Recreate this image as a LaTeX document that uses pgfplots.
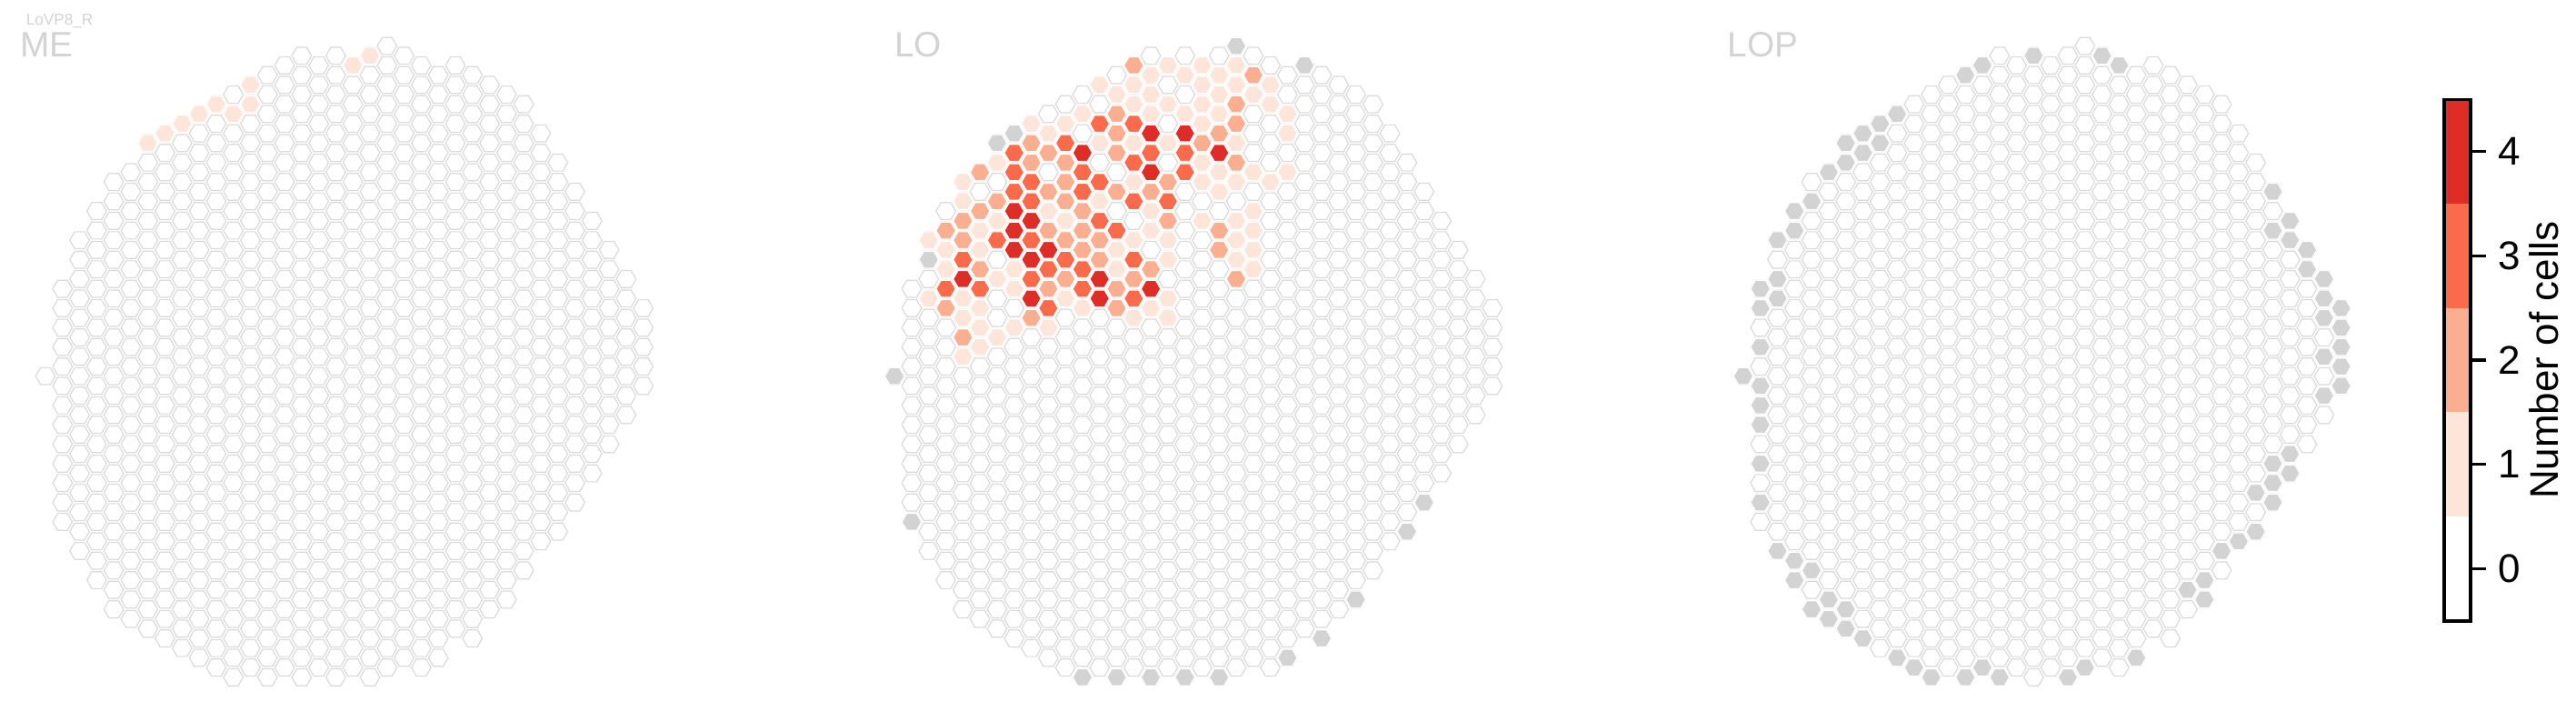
\documentclass[border=0pt]{standalone}
\usepackage{fontspec}
\setmainfont{Liberation Sans}
\usepackage{pgfplots}
\usepackage{pgfplotstable}
\pgfplotsset{compat=1.18}

\definecolor{rA}{HTML}{FEE5D9}
\definecolor{rB}{HTML}{FCAE91}
\definecolor{rC}{HTML}{FB6A4A}
\definecolor{rD}{HTML}{DE2D26}
\definecolor{absent}{HTML}{D3D3D3}
\definecolor{edge}{HTML}{DADADA}
\definecolor{titlegray}{HTML}{D3D3D3}

\pgfdeclareplotmark{hexa}{%
  \pgfpathmoveto{\pgfpoint{\pgfplotmarksize}{0pt}}%
  \pgfpathlineto{\pgfpoint{0.5\pgfplotmarksize}{0.866\pgfplotmarksize}}%
  \pgfpathlineto{\pgfpoint{-0.5\pgfplotmarksize}{0.866\pgfplotmarksize}}%
  \pgfpathlineto{\pgfpoint{-\pgfplotmarksize}{0pt}}%
  \pgfpathlineto{\pgfpoint{-0.5\pgfplotmarksize}{-0.866\pgfplotmarksize}}%
  \pgfpathlineto{\pgfpoint{0.5\pgfplotmarksize}{-0.866\pgfplotmarksize}}%
  \pgfpathclose
  \pgfusepathqfillstroke}

% all columns of the hexagonal grid (c = column, Y = half-row)
\pgfplotstableread[row sep=\\]{c Y\\
0 34\\
1 25\\1 27\\1 29\\1 31\\1 33\\1 35\\1 37\\1 39\\1 41\\1 43\\1 45\\1 47\\1 49\\
2 20\\2 22\\2 24\\2 26\\2 28\\2 30\\2 32\\2 34\\2 36\\2 38\\2 40\\2 42\\2 44\\2 46\\2 48\\2 50\\2 52\\
3 17\\3 19\\3 21\\3 23\\3 25\\3 27\\3 29\\3 31\\3 33\\3 35\\3 37\\3 39\\3 41\\3 43\\3 45\\3 47\\3 49\\3 51\\3 53\\3 55\\
4 14\\4 16\\4 18\\4 20\\4 22\\4 24\\4 26\\4 28\\4 30\\4 32\\4 34\\4 36\\4 38\\4 40\\4 42\\4 44\\4 46\\4 48\\4 50\\4 52\\4 54\\4 56\\4 58\\
5 13\\5 15\\5 17\\5 19\\5 21\\5 23\\5 25\\5 27\\5 29\\5 31\\5 33\\5 35\\5 37\\5 39\\5 41\\5 43\\5 45\\5 47\\5 49\\5 51\\5 53\\5 55\\5 57\\5 59\\
6 10\\6 12\\6 14\\6 16\\6 18\\6 20\\6 22\\6 24\\6 26\\6 28\\6 30\\6 32\\6 34\\6 36\\6 38\\6 40\\6 42\\6 44\\6 46\\6 48\\6 50\\6 52\\6 54\\6 56\\6 58\\6 60\\
7 9\\7 11\\7 13\\7 15\\7 17\\7 19\\7 21\\7 23\\7 25\\7 27\\7 29\\7 31\\7 33\\7 35\\7 37\\7 39\\7 41\\7 43\\7 45\\7 47\\7 49\\7 51\\7 53\\7 55\\7 57\\7 59\\7 61\\
8 8\\8 10\\8 12\\8 14\\8 16\\8 18\\8 20\\8 22\\8 24\\8 26\\8 28\\8 30\\8 32\\8 34\\8 36\\8 38\\8 40\\8 42\\8 44\\8 46\\8 48\\8 50\\8 52\\8 54\\8 56\\8 58\\8 60\\8 62\\
9 7\\9 9\\9 11\\9 13\\9 15\\9 17\\9 19\\9 21\\9 23\\9 25\\9 27\\9 29\\9 31\\9 33\\9 35\\9 37\\9 39\\9 41\\9 43\\9 45\\9 47\\9 49\\9 51\\9 53\\9 55\\9 57\\9 59\\9 61\\9 63\\
10 6\\10 8\\10 10\\10 12\\10 14\\10 16\\10 18\\10 20\\10 22\\10 24\\10 26\\10 28\\10 30\\10 32\\10 34\\10 36\\10 38\\10 40\\10 42\\10 44\\10 46\\10 48\\10 50\\10 52\\10 54\\10 56\\10 58\\10 60\\10 62\\10 64\\
11 5\\11 7\\11 9\\11 11\\11 13\\11 15\\11 17\\11 19\\11 21\\11 23\\11 25\\11 27\\11 29\\11 31\\11 33\\11 35\\11 37\\11 39\\11 41\\11 43\\11 45\\11 47\\11 49\\11 51\\11 53\\11 55\\11 57\\11 59\\11 61\\11 63\\11 65\\
12 4\\12 6\\12 8\\12 10\\12 12\\12 14\\12 16\\12 18\\12 20\\12 22\\12 24\\12 26\\12 28\\12 30\\12 32\\12 34\\12 36\\12 38\\12 40\\12 42\\12 44\\12 46\\12 48\\12 50\\12 52\\12 54\\12 56\\12 58\\12 60\\12 62\\12 64\\
13 3\\13 5\\13 7\\13 9\\13 11\\13 13\\13 15\\13 17\\13 19\\13 21\\13 23\\13 25\\13 27\\13 29\\13 31\\13 33\\13 35\\13 37\\13 39\\13 41\\13 43\\13 45\\13 47\\13 49\\13 51\\13 53\\13 55\\13 57\\13 59\\13 61\\13 63\\13 65\\
14 2\\14 4\\14 6\\14 8\\14 10\\14 12\\14 14\\14 16\\14 18\\14 20\\14 22\\14 24\\14 26\\14 28\\14 30\\14 32\\14 34\\14 36\\14 38\\14 40\\14 42\\14 44\\14 46\\14 48\\14 50\\14 52\\14 54\\14 56\\14 58\\14 60\\14 62\\14 64\\
15 1\\15 3\\15 5\\15 7\\15 9\\15 11\\15 13\\15 15\\15 17\\15 19\\15 21\\15 23\\15 25\\15 27\\15 29\\15 31\\15 33\\15 35\\15 37\\15 39\\15 41\\15 43\\15 45\\15 47\\15 49\\15 51\\15 53\\15 55\\15 57\\15 59\\15 61\\15 63\\15 65\\
16 2\\16 4\\16 6\\16 8\\16 10\\16 12\\16 14\\16 16\\16 18\\16 20\\16 22\\16 24\\16 26\\16 28\\16 30\\16 32\\16 34\\16 36\\16 38\\16 40\\16 42\\16 44\\16 46\\16 48\\16 50\\16 52\\16 54\\16 56\\16 58\\16 60\\16 62\\16 64\\
17 1\\17 3\\17 5\\17 7\\17 9\\17 11\\17 13\\17 15\\17 17\\17 19\\17 21\\17 23\\17 25\\17 27\\17 29\\17 31\\17 33\\17 35\\17 37\\17 39\\17 41\\17 43\\17 45\\17 47\\17 49\\17 51\\17 53\\17 55\\17 57\\17 59\\17 61\\17 63\\17 65\\
18 2\\18 4\\18 6\\18 8\\18 10\\18 12\\18 14\\18 16\\18 18\\18 20\\18 22\\18 24\\18 26\\18 28\\18 30\\18 32\\18 34\\18 36\\18 38\\18 40\\18 42\\18 44\\18 46\\18 48\\18 50\\18 52\\18 54\\18 56\\18 58\\18 60\\18 62\\18 64\\
19 1\\19 3\\19 5\\19 7\\19 9\\19 11\\19 13\\19 15\\19 17\\19 19\\19 21\\19 23\\19 25\\19 27\\19 29\\19 31\\19 33\\19 35\\19 37\\19 39\\19 41\\19 43\\19 45\\19 47\\19 49\\19 51\\19 53\\19 55\\19 57\\19 59\\19 61\\19 63\\19 65\\
20 0\\20 2\\20 4\\20 6\\20 8\\20 10\\20 12\\20 14\\20 16\\20 18\\20 20\\20 22\\20 24\\20 26\\20 28\\20 30\\20 32\\20 34\\20 36\\20 38\\20 40\\20 42\\20 44\\20 46\\20 48\\20 50\\20 52\\20 54\\20 56\\20 58\\20 60\\20 62\\20 64\\
21 1\\21 3\\21 5\\21 7\\21 9\\21 11\\21 13\\21 15\\21 17\\21 19\\21 21\\21 23\\21 25\\21 27\\21 29\\21 31\\21 33\\21 35\\21 37\\21 39\\21 41\\21 43\\21 45\\21 47\\21 49\\21 51\\21 53\\21 55\\21 57\\21 59\\21 61\\21 63\\
22 2\\22 4\\22 6\\22 8\\22 10\\22 12\\22 14\\22 16\\22 18\\22 20\\22 22\\22 24\\22 26\\22 28\\22 30\\22 32\\22 34\\22 36\\22 38\\22 40\\22 42\\22 44\\22 46\\22 48\\22 50\\22 52\\22 54\\22 56\\22 58\\22 60\\22 62\\22 64\\
23 3\\23 5\\23 7\\23 9\\23 11\\23 13\\23 15\\23 17\\23 19\\23 21\\23 23\\23 25\\23 27\\23 29\\23 31\\23 33\\23 35\\23 37\\23 39\\23 41\\23 43\\23 45\\23 47\\23 49\\23 51\\23 53\\23 55\\23 57\\23 59\\23 61\\23 63\\
24 2\\24 4\\24 6\\24 8\\24 10\\24 12\\24 14\\24 16\\24 18\\24 20\\24 22\\24 24\\24 26\\24 28\\24 30\\24 32\\24 34\\24 36\\24 38\\24 40\\24 42\\24 44\\24 46\\24 48\\24 50\\24 52\\24 54\\24 56\\24 58\\24 60\\
25 3\\25 5\\25 7\\25 9\\25 11\\25 13\\25 15\\25 17\\25 19\\25 21\\25 23\\25 25\\25 27\\25 29\\25 31\\25 33\\25 35\\25 37\\25 39\\25 41\\25 43\\25 45\\25 47\\25 49\\25 51\\25 53\\25 55\\25 57\\25 59\\25 61\\
26 4\\26 6\\26 8\\26 10\\26 12\\26 14\\26 16\\26 18\\26 20\\26 22\\26 24\\26 26\\26 28\\26 30\\26 32\\26 34\\26 36\\26 38\\26 40\\26 42\\26 44\\26 46\\26 48\\26 50\\26 52\\26 54\\26 56\\26 58\\
27 5\\27 7\\27 9\\27 11\\27 13\\27 15\\27 17\\27 19\\27 21\\27 23\\27 25\\27 27\\27 29\\27 31\\27 33\\27 35\\27 37\\27 39\\27 41\\27 43\\27 45\\27 47\\27 49\\27 51\\27 53\\27 55\\27 57\\
28 6\\28 8\\28 10\\28 12\\28 14\\28 16\\28 18\\28 20\\28 22\\28 24\\28 26\\28 28\\28 30\\28 32\\28 34\\28 36\\28 38\\28 40\\28 42\\28 44\\28 46\\28 48\\28 50\\28 52\\28 54\\
29 9\\29 11\\29 13\\29 15\\29 17\\29 19\\29 21\\29 23\\29 25\\29 27\\29 29\\29 31\\29 33\\29 35\\29 37\\29 39\\29 41\\29 43\\29 45\\29 47\\29 49\\29 51\\
30 12\\30 14\\30 16\\30 18\\30 20\\30 22\\30 24\\30 26\\30 28\\30 30\\30 32\\30 34\\30 36\\30 38\\30 40\\30 42\\30 44\\30 46\\30 48\\30 50\\
31 15\\31 17\\31 19\\31 21\\31 23\\31 25\\31 27\\31 29\\31 31\\31 33\\31 35\\31 37\\31 39\\31 41\\31 43\\31 45\\31 47\\
32 18\\32 20\\32 22\\32 24\\32 26\\32 28\\32 30\\32 32\\32 34\\32 36\\32 38\\32 40\\32 42\\32 44\\
33 21\\33 23\\33 25\\33 27\\33 29\\33 31\\33 33\\33 35\\33 37\\33 39\\33 41\\
34 24\\34 26\\34 28\\34 30\\34 32\\34 34\\34 36\\34 38\\
35 27\\35 29\\35 31\\35 33\\35 35\\
}\gridtab

% ME: columns with 1 cell
\pgfplotstableread[row sep=\\]{c Y\\
6 10\\7 9\\8 8\\9 7\\10 6\\11 7\\12 4\\12 6\\18 2\\19 1\\
}\MEone

% LO
\pgfplotstableread[row sep=\\]{c Y\\
20 0\\24 2\\7 9\\6 10\\2 22\\0 34\\1 49\\31 47\\30 50\\27 57\\25 61\\23 63\\11 65\\13 65\\15 65\\17 65\\19 65\\
}\LOgray
\pgfplotstableread[row sep=\\]{c Y\\
16 2\\18 2\\20 2\\15 3\\17 3\\19 3\\12 4\\14 4\\18 4\\20 4\\22 4\\13 5\\15 5\\19 5\\21 5\\
14 6\\16 6\\18 6\\22 6\\11 7\\15 7\\17 7\\19 7\\23 7\\8 8\\10 8\\18 8\\9 9\\23 9\\
12 10\\14 10\\16 10\\20 10\\6 12\\18 12\\19 13\\21 13\\23 13\\4 14\\14 14\\18 14\\20 14\\22 14\\
19 15\\4 16\\12 16\\9 17\\15 17\\21 17\\6 18\\10 18\\18 18\\20 18\\5 19\\15 19\\21 19\\
2 20\\14 20\\16 20\\20 20\\3 21\\5 21\\13 21\\21 21\\16 22\\20 22\\3 23\\7 23\\13 23\\21 23\\
6 24\\7 25\\2 26\\4 26\\10 26\\16 26\\5 27\\11 27\\15 27\\4 28\\14 28\\16 28\\5 29\\7 29\\9 29\\
6 30\\5 31\\4 32\\
}\LOone
\pgfplotstableread[row sep=\\]{c Y\\
14 2\\21 3\\20 6\\13 7\\20 8\\13 9\\19 9\\8 10\\18 10\\9 11\\13 11\\8 12\\10 12\\20 12\\5 13\\
10 14\\16 14\\9 15\\13 15\\15 15\\6 16\\10 16\\5 17\\11 17\\4 18\\16 18\\3 19\\9 19\\11 19\\19 19\\
4 20\\10 20\\12 20\\11 21\\19 21\\12 22\\5 23\\15 23\\10 24\\14 24\\20 24\\9 25\\13 25\\3 27\\13 27\\
8 28\\4 30\\
}\LOtwo
\pgfplotstableread[row sep=\\]{c Y\\
12 8\\14 8\\10 10\\7 11\\15 11\\17 11\\14 12\\7 13\\11 13\\17 13\\8 14\\12 14\\7 15\\11 15\\
8 16\\14 16\\16 16\\12 18\\13 19\\6 20\\8 20\\4 22\\10 22\\14 22\\9 23\\11 23\\8 24\\
3 25\\5 25\\11 25\\14 26\\9 27\\
}\LOthree
\pgfplotstableread[row sep=\\]{c Y\\
15 9\\17 9\\11 11\\19 11\\15 13\\7 17\\8 18\\7 19\\7 21\\9 21\\8 22\\4 24\\12 24\\15 25\\8 26\\12 26\\
}\LOfour

% LOP
\pgfplotstableread[row sep=\\]{c Y\\
17 1\\21 1\\22 2\\14 2\\13 3\\9 7\\8 8\\7 9\\8 10\\6 10\\7 11\\6 12\\5 13\\4 16\\3 17\\3 19\\
2 20\\2 24\\1 25\\2 26\\1 27\\1 31\\0 34\\1 35\\1 37\\1 39\\1 43\\1 47\\2 52\\3 53\\4 54\\3 55\\
5 57\\4 58\\6 58\\5 59\\6 60\\7 61\\9 63\\10 64\\11 65\\13 65\\14 64\\15 65\\19 65\\20 64\\23 63\\
26 56\\27 55\\27 57\\28 52\\29 51\\30 50\\30 46\\31 47\\31 45\\31 43\\32 42\\32 44\\
34 36\\35 35\\35 33\\34 32\\35 31\\35 29\\35 27\\34 28\\34 26\\34 24\\33 23\\33 21\\32 20\\32 18\\31 19\\31 15\\
}\LOPgray

\pgfplotsset{
  hexpanel/.style={hide axis, x=4.6975pt, y=2.67pt, y dir=reverse,
    xmin=0, xmax=35, ymin=0, ymax=65, clip=false, anchor=north west},
  hexbase/.style={only marks, mark=hexa, mark size=2.7pt,
    mark options={fill=white, draw=edge, line width=0.3pt}},
  hexfill/.style={only marks, mark=hexa, mark size=2.7pt,
    mark options={fill=#1, draw=white, line width=0.3pt}},
}

\begin{document}
\begin{tikzpicture}
\useasboundingbox (0,0) rectangle (708.5pt,198.25pt);

% ---- ME ----
\begin{axis}[hexpanel, at={(12.5pt,185.6pt)}]
\addplot[hexbase] table[x=c,y=Y] {\gridtab};
\addplot[hexfill=rA] table[x=c,y=Y] {\MEone};
\end{axis}

% ---- LO ----
\begin{axis}[hexpanel, at={(246.05pt,185.6pt)}]
\addplot[hexbase] table[x=c,y=Y] {\gridtab};
\addplot[hexfill=absent] table[x=c,y=Y] {\LOgray};
\addplot[hexfill=rA] table[x=c,y=Y] {\LOone};
\addplot[hexfill=rB] table[x=c,y=Y] {\LOtwo};
\addplot[hexfill=rC] table[x=c,y=Y] {\LOthree};
\addplot[hexfill=rD] table[x=c,y=Y] {\LOfour};
\end{axis}

% ---- LOP ----
\begin{axis}[hexpanel, at={(479.475pt,185.6pt)}]
\addplot[hexbase] table[x=c,y=Y] {\gridtab};
\addplot[hexfill=absent] table[x=c,y=Y] {\LOPgray};
\end{axis}

% titles
\node[anchor=base west, inner sep=0pt, text=titlegray, font=\fontsize{4.3}{5}\selectfont] at (7pt,191.3pt) {LoVP8\_R};
\node[anchor=base west, inner sep=0pt, text=titlegray, font=\fontsize{9.7}{11}\selectfont] at (5.4pt,182.6pt) {ME};
\node[anchor=base west, inner sep=0pt, text=titlegray, font=\fontsize{9.7}{11}\selectfont] at (245.8pt,182.6pt) {LO};
\node[anchor=base west, inner sep=0pt, text=titlegray, font=\fontsize{9.7}{11}\selectfont] at (475.0pt,182.6pt) {LOP};

% ---- colour bar ----
\begin{axis}[at={(672.2pt,27.55pt)}, anchor=south west, scale only axis,
  width=7.3pt, height=143.35pt, xmin=0, xmax=1, ymin=-0.5, ymax=4.5,
  xtick=\empty, ytick={0,1,2,3,4}, yticklabel pos=right, ytick pos=right,
  tick align=outside, major tick length=4.2pt,
  every tick/.style={black, line width=0.85pt},
  axis line style={black, line width=0.9pt}, axis on top,
  yticklabel style={font=\fontsize{11}{13}\selectfont,
    /pgf/number format/assume math mode=true},
  every axis y label/.style={at={(axis description cs:4.32,0.5)}, rotate=90,
    anchor=base, font=\fontsize{11}{13}\selectfont},
  ylabel={Number of cells}]
\addplot[fill=white, draw=none, mark=none] coordinates {(0,-0.5) (1,-0.5) (1,0.5) (0,0.5)};
\addplot[fill=rA, draw=none, mark=none] coordinates {(0,0.5) (1,0.5) (1,1.5) (0,1.5)};
\addplot[fill=rB, draw=none, mark=none] coordinates {(0,1.5) (1,1.5) (1,2.5) (0,2.5)};
\addplot[fill=rC, draw=none, mark=none] coordinates {(0,2.5) (1,2.5) (1,3.5) (0,3.5)};
\addplot[fill=rD, draw=none, mark=none] coordinates {(0,3.5) (1,3.5) (1,4.5) (0,4.5)};
\end{axis}
\end{tikzpicture}
\end{document}
